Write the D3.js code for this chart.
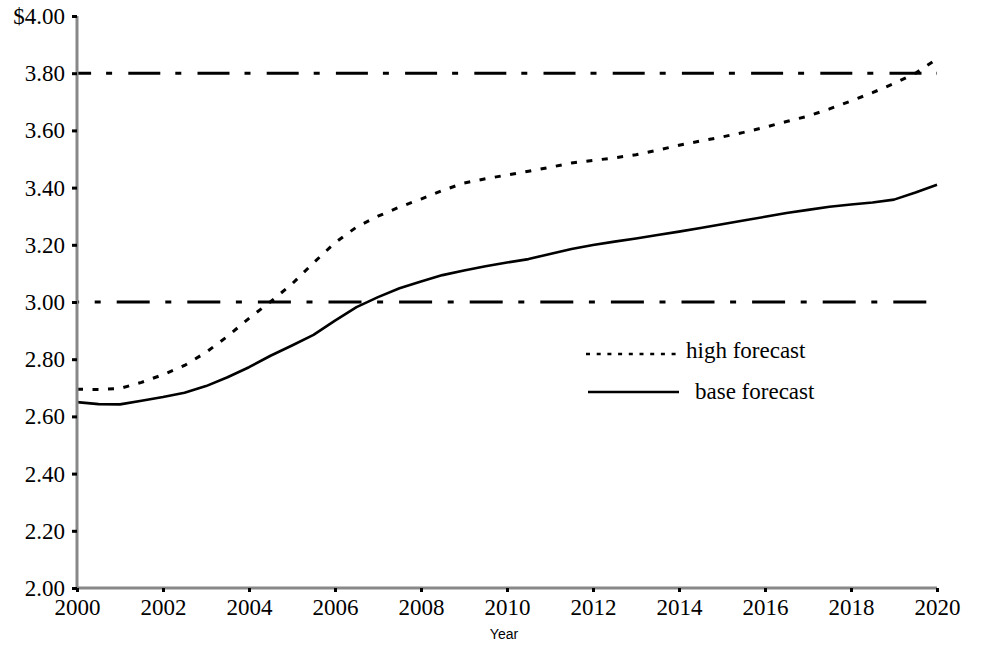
<!DOCTYPE html>
<html>
<head>
<meta charset="utf-8">
<script src="https://cdn.jsdelivr.net/npm/d3@7"></script>
<style>
  html, body { margin: 0; padding: 0; background: #fff; }
  svg { display: block; }
  .serif { font-family: "Liberation Serif", "Times New Roman", serif; font-size: 23px; fill: #000; }
</style>
</head>
<body>
<svg id="chart" width="984" height="648"></svg>
<script>
// ---- data ----
const years = [2000, 2000.5, 2001, 2001.5, 2002, 2002.5, 2003, 2003.5, 2004, 2004.5,
  2005, 2005.5, 2006, 2006.5, 2007, 2007.5, 2008, 2008.5, 2009, 2009.5,
  2010, 2010.5, 2011, 2011.5, 2012, 2012.5, 2013, 2013.5, 2014, 2014.5,
  2015, 2015.5, 2016, 2016.5, 2017, 2017.5, 2018, 2018.5, 2019, 2019.5, 2020];
const baseForecast = [2.650, 2.643, 2.642, 2.655, 2.668, 2.683, 2.706, 2.737, 2.772, 2.812,
  2.848, 2.885, 2.935, 2.982, 3.017, 3.048, 3.072, 3.094, 3.110, 3.125,
  3.138, 3.150, 3.168, 3.185, 3.199, 3.211, 3.222, 3.234, 3.246, 3.259,
  3.272, 3.285, 3.298, 3.311, 3.322, 3.333, 3.341, 3.348, 3.358, 3.383, 3.410];
const highForecast = [2.695, 2.694, 2.698, 2.719, 2.746, 2.778, 2.824, 2.880, 2.943, 3.001,
  3.063, 3.137, 3.207, 3.262, 3.300, 3.332, 3.360, 3.390, 3.416, 3.431,
  3.444, 3.457, 3.471, 3.486, 3.495, 3.504, 3.515, 3.531, 3.548, 3.563,
  3.577, 3.593, 3.611, 3.631, 3.650, 3.675, 3.703, 3.732, 3.764, 3.800, 3.850];
const referenceLevels = [3.80, 3.00];
const xTicks = [2000, 2002, 2004, 2006, 2008, 2010, 2012, 2014, 2016, 2018, 2020];
const yTicks = [2.0, 2.2, 2.4, 2.6, 2.8, 3.0, 3.2, 3.4, 3.6, 3.8, 4.0];
const seriesNames = ["high forecast", "base forecast"];
const xAxisTitle = "Year";

// ---- layout ----
const svg = d3.select("#chart");
const x = d3.scaleLinear().domain([2000, 2020]).range([77, 937]);
const y = d3.scaleLinear().domain([2, 4]).range([588, 16]);

// reference dash-dot lines
const refStyles = [
  { dash: "32,15,6,16.2", offset: 17.9 },
  { dash: "33,15.6,6,16", offset: 30.9 }
];
svg.append("g").selectAll("line").data(referenceLevels).join("line")
  .attr("x1", x(2000)).attr("x2", x(2020))
  .attr("y1", d => y(d)).attr("y2", d => y(d))
  .attr("stroke", "#000").attr("stroke-width", 3)
  .attr("stroke-dasharray", (d, i) => refStyles[i].dash)
  .attr("stroke-dashoffset", (d, i) => refStyles[i].offset);

// lines
const line = d3.line().x(d => x(d[0])).y(d => y(d[1]));
const highData = years.map((yr, i) => [yr, highForecast[i]]);
const baseData = years.map((yr, i) => [yr, baseForecast[i]]);

svg.append("path").datum(highData).attr("d", line)
  .attr("fill", "none").attr("stroke", "#000").attr("stroke-width", 3)
  .attr("stroke-dasharray", "6,9.5");
svg.append("path").datum(baseData).attr("d", line)
  .attr("fill", "none").attr("stroke", "#000").attr("stroke-width", 2.6)
  .attr("stroke-linejoin", "round");

// axes
const yAxis = svg.append("g").attr("transform", `translate(${x(2000)},0)`)
  .call(d3.axisLeft(y).tickValues(yTicks).tickSize(5).tickPadding(7)
    .tickFormat(d => (d === 4 ? "$" : "") + d3.format(".2f")(d)));
const xAxis = svg.append("g").attr("transform", `translate(0,${y(2)})`)
  .call(d3.axisBottom(x).tickValues(xTicks).tickSize(4).tickFormat(d3.format("d")));

[yAxis, xAxis].forEach(g => {
  g.attr("font-family", null).attr("font-size", null);
  g.select(".domain").attr("stroke", "#888").attr("stroke-width", 3);
  g.selectAll(".tick line").attr("stroke", "#000").attr("stroke-width", 3);
  g.selectAll(".tick text").attr("class", "serif").attr("fill", "#000");
});
yAxis.select(".domain").attr("d", `M0,${y(4)}V${y(2)}`);
xAxis.select(".domain").attr("d", `M${x(2000)},0H${x(2020)}`);
yAxis.selectAll(".tick text").attr("dy", null).attr("y", 7.5);
xAxis.selectAll(".tick text").attr("dy", null).attr("y", 27);

// x axis title
svg.append("text").attr("x", 504).attr("y", 639).attr("text-anchor", "middle")
  .style("font-family", "'Liberation Sans', Arial, sans-serif").style("font-size", "14px")
  .text(xAxisTitle);

// legend
const legend = svg.append("g");
legend.append("line").attr("x1", 586).attr("x2", 677).attr("y1", 354).attr("y2", 354)
  .attr("stroke", "#000").attr("stroke-width", 2.7).attr("stroke-dasharray", "4,6.7");
legend.append("text").attr("class", "serif").attr("x", 686).attr("y", 358).text(seriesNames[0]);
legend.append("line").attr("x1", 588).attr("x2", 679).attr("y1", 392).attr("y2", 392)
  .attr("stroke", "#000").attr("stroke-width", 2.7);
legend.append("text").attr("class", "serif").attr("x", 695).attr("y", 399).text(seriesNames[1]);
</script>
</body>
</html>
